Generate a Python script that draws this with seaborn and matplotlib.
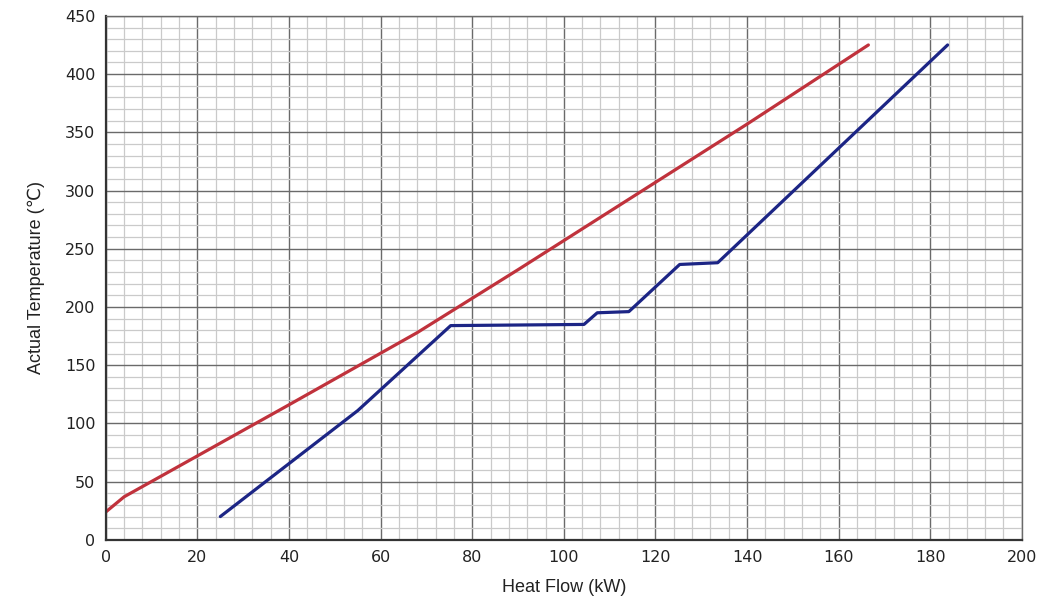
import seaborn as sns
import matplotlib.pyplot as plt
import pandas as pd
from matplotlib.ticker import MultipleLocator

# Composite curves
hot_flow = [0, 4, 40, 68, 90, 120, 140, 166.5]
hot_temp = [24, 37, 116, 178, 232, 307, 357, 425]

cold_flow = [25, 55, 75.3, 104.4, 107.3, 114.2, 125.3, 133.6, 183.8]
cold_temp = [20, 111, 184, 185, 195, 196, 236.5, 238, 425]

df = pd.concat([
    pd.DataFrame({'Heat Flow (kW)': hot_flow, 'Temp': hot_temp, 'Stream': 'Hot'}),
    pd.DataFrame({'Heat Flow (kW)': cold_flow, 'Temp': cold_temp, 'Stream': 'Cold'}),
])

sns.set_style("white")
plt.rcParams['font.family'] = ['DejaVu Sans']

fig = plt.figure(figsize=(10.48, 6.10), dpi=100)
ax = fig.add_axes([0.101, 0.115, 0.874, 0.859])

sns.lineplot(data=df, x='Heat Flow (kW)', y='Temp', hue='Stream',
             palette={'Hot': '#c0323c', 'Cold': '#1c2585'},
             sort=False, estimator=None, linewidth=2.3, legend=False, ax=ax)

ax.set_xlim(0, 200)
ax.set_ylim(0, 450)
ax.xaxis.set_major_locator(MultipleLocator(20))
ax.xaxis.set_minor_locator(MultipleLocator(4))
ax.yaxis.set_major_locator(MultipleLocator(50))
ax.yaxis.set_minor_locator(MultipleLocator(10))
ax.grid(which='major', color='#6a6a6a', linewidth=1.0)
ax.grid(which='minor', color='#cacaca', linewidth=0.9)
ax.set_axisbelow(True)

for side in ['top', 'right']:
    ax.spines[side].set_color('#6a6a6a')
    ax.spines[side].set_linewidth(1.0)
for side in ['left', 'bottom']:
    ax.spines[side].set_color('#333333')
    ax.spines[side].set_linewidth(1.6)

ax.tick_params(axis='both', which='major', direction='out', length=4,
               width=1.2, color='#333333', labelsize=11.5, labelcolor='#222222')
ax.tick_params(axis='both', which='minor', length=0)

ax.set_xlabel('Heat Flow (kW)', fontsize=13, family='Liberation Sans',
              color='#222222', labelpad=10)
ax.set_ylabel('Actual Temperature (℃)', fontsize=13, family=['Liberation Sans', 'DejaVu Sans'],
              color='#222222', labelpad=14)

plt.savefig('out.png', dpi=100, facecolor='white')
